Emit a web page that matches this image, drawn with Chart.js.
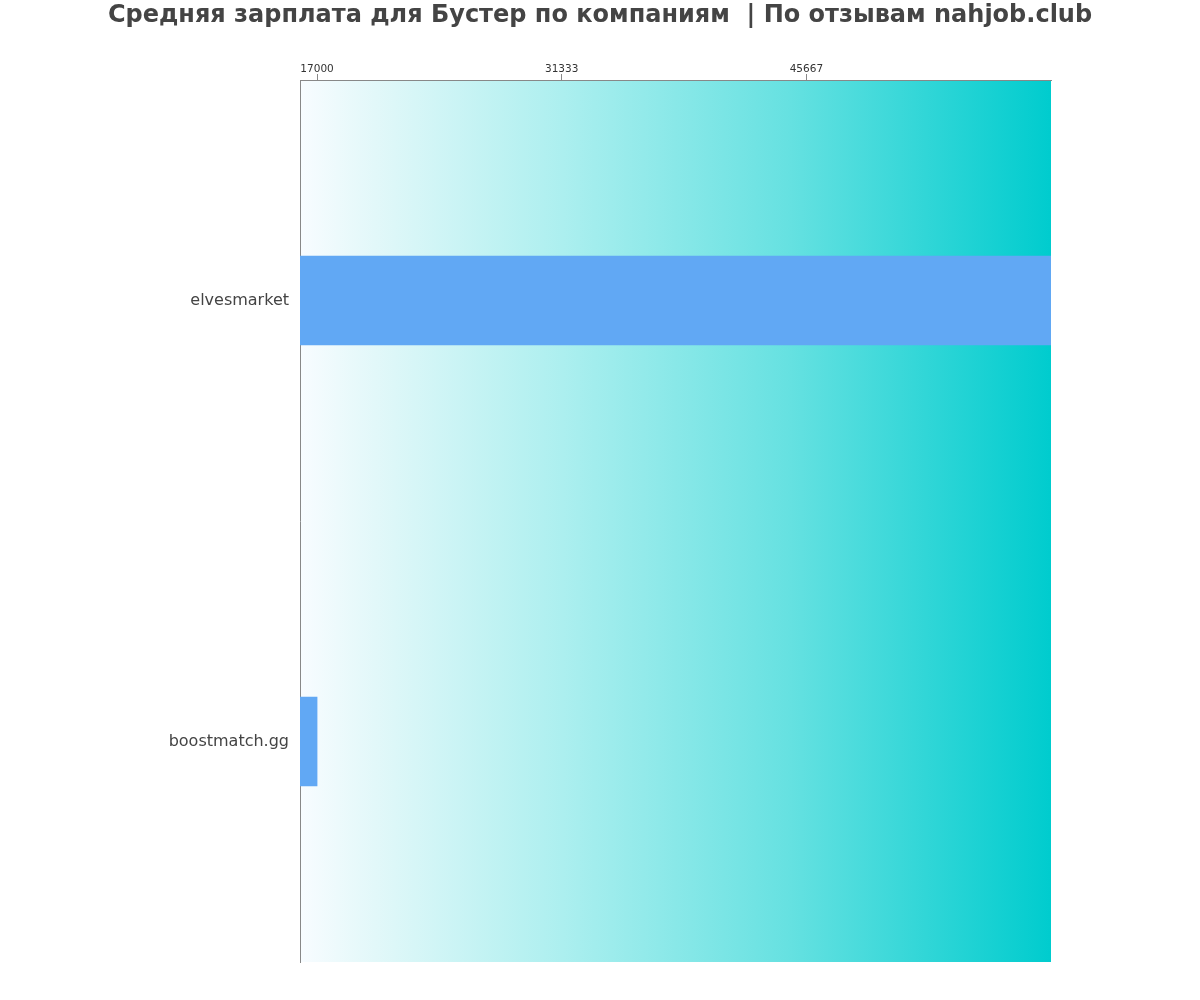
<!DOCTYPE html>
<html>
<head>
<meta charset="utf-8">
<script src="https://cdn.jsdelivr.net/npm/chart.js@4/dist/chart.umd.min.js"></script>
<style>
  html, body { margin: 0; padding: 0; background: #fff; }
  #salaryChart { display: block; }
</style>
</head>
<body>
<canvas id="salaryChart" width="1200" height="1000"></canvas>
<script>
const chartTitle = 'Средняя зарплата для Бустер по компаниям  | По отзывам nahjob.club';
const companies = ['elvesmarket', 'boostmatch.gg'];
const salaries = [60000, 17000];
const tickValues = [17000, 31333, 45667];
const axisMin = 16000;
const axisMax = 60000;

const ctxSalary = document.getElementById('salaryChart');

// gradient behind the bars + title centred on the whole canvas
const gradientBackground = {
    id: 'gradientBackground',
    beforeDraw(chart) {
        const area = chart.chartArea;
        const c = chart.ctx;
        const g = c.createLinearGradient(area.left, 0, area.right, 0);
        g.addColorStop(0, 'rgb(248,252,255)');
        g.addColorStop(0.1, 'rgb(226,248,249)');
        g.addColorStop(0.35, 'rgb(172,239,239)');
        g.addColorStop(0.65, 'rgb(102,225,225)');
        g.addColorStop(1, 'rgb(0,204,206)');
        c.save();
        c.fillStyle = g;
        c.fillRect(area.left, area.top, area.right - area.left, area.bottom - area.top);
        c.fillStyle = '#444';
        c.font = 'bold 24px "DejaVu Sans"';
        c.textAlign = 'center';
        c.textBaseline = 'middle';
        c.fillText(chartTitle, chart.width / 2, 16);
        c.restore();
    }
};

const dataSalary = {
    labels: companies,
    datasets: [{
        label: 'Средняя зарплата',
        backgroundColor: 'rgb(97,168,244)',
        borderWidth: 0,
        barThickness: 89,
        data: salaries,
    }]
};

const configSalary = {
    type: 'bar',
    data: dataSalary,
    plugins: [gradientBackground],
    options: {
        indexAxis: 'y',
        responsive: false,
        devicePixelRatio: 1,
        animation: false,
        layout: {
            padding: { left: 0, right: 149, bottom: 38, top: 40 }
        },
        plugins: {
            legend: { display: false },
            tooltip: { enabled: false },
            title: { display: false }
        },
        scales: {
            x: {
                position: 'top',
                min: axisMin,
                max: axisMax,
                afterBuildTicks(scale) {
                    scale.ticks = tickValues.map(v => ({ value: v }));
                },
                afterFit(scale) {
                    scale.height = 40;
                },
                ticks: {
                    color: '#333',
                    font: { family: 'DejaVu Sans', size: 10.5 },
                    padding: -2,
                    maxRotation: 0,
                    callback: v => String(Math.round(v))
                },
                grid: {
                    drawOnChartArea: false,
                    tickLength: 6,
                    color: '#888'
                },
                border: { display: true, color: '#888' }
            },
            y: {
                afterFit(scale) {
                    scale.width = 300;
                },
                ticks: {
                    color: '#444',
                    font: { family: 'DejaVu Sans', size: 16 },
                    padding: 11
                },
                grid: {
                    display: false,
                    drawTicks: false
                },
                border: { display: true, color: '#888' }
            }
        }
    }
};

const barChartSalary = new Chart(ctxSalary, configSalary);
</script>
</body>
</html>
